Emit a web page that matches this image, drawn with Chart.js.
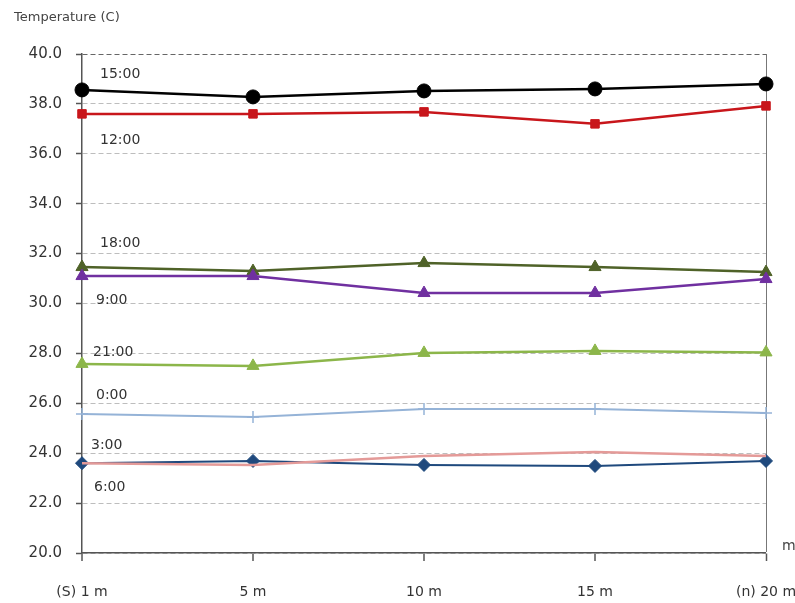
<!DOCTYPE html>
<html>
<head>
<meta charset="utf-8">
<script src="https://cdn.jsdelivr.net/npm/chart.js@4/dist/chart.umd.min.js"></script>
<style>
html,body{margin:0;padding:0;background:#fff;}
#wrap{width:795px;height:603px;}
</style>
</head>
<body>
<div id="wrap"><canvas id="c" width="795" height="603"></canvas></div>
<script>
const categories = ["(S) 1 m", "5 m", "10 m", "15 m", "(n) 20 m"];
const yTicks = [20, 22, 24, 26, 28, 30, 32, 34, 36, 38, 40];
const seriesNames = ["15:00", "12:00", "18:00", "9:00", "21:00", "0:00", "3:00", "6:00"];
const t1500 = [38.56, 38.28, 38.52, 38.60, 38.80];
const t1200 = [37.60, 37.60, 37.68, 37.20, 37.92];
const t1800 = [31.46, 31.30, 31.62, 31.46, 31.26];
const t0900 = [31.10, 31.10, 30.42, 30.42, 30.98];
const t2100 = [27.58, 27.50, 28.02, 28.10, 28.04];
const t0000 = [25.57, 25.45, 25.77, 25.77, 25.61];
const t0300 = [23.60, 23.53, 23.89, 24.05, 23.89];
const t0600 = [23.60, 23.69, 23.53, 23.49, 23.69];

const FONT = "'DejaVu Sans', sans-serif";

const labelPlugin = {
  id: 'seriesLabels',
  afterDatasetsDraw(chart, args, opts) {
    const ctx = chart.ctx;
    const ys = chart.scales.y;
    ctx.save();
    ctx.font = "14px " + FONT;
    ctx.fillStyle = "#333";
    ctx.textBaseline = "middle";
    ctx.textAlign = "left";
    opts.items.forEach(it => {
      ctx.fillText(it.text, chart.chartArea.left + it.dx, ys.getPixelForValue(it.v));
    });
    ctx.font = "13px " + FONT;
    ctx.fillStyle = "#444";
    ctx.fillText("Temperature (C)", 14, 18);
    ctx.font = "14px " + FONT;
    ctx.fillText("m", chart.chartArea.right + 16, chart.chartArea.bottom - 7);
    ctx.restore();
  }
};

function ds(label, data, color, style, radius, width) {
  return {
    label, data,
    borderColor: color, backgroundColor: color,
    pointStyle: style, pointRadius: radius, pointHoverRadius: radius,
    pointBorderColor: color, pointBackgroundColor: color,
    borderWidth: width, pointBorderWidth: style === 'cross' ? 1.5 : 1,
    tension: 0, fill: false
  };
}

new Chart(document.getElementById('c'), {
  type: 'line',
  data: {
    labels: categories,
    datasets: [
      ds(seriesNames[6], t0300, '#e49a98', false, 0, 2.5),
      ds(seriesNames[7], t0600, '#1f497d', 'rectRot', 6.5, 2),
      ds(seriesNames[5], t0000, '#95b3d7', 'cross', 6, 2),
      ds(seriesNames[4], t2100, '#8cb64a', 'triangle', 7, 2.5),
      ds(seriesNames[3], t0900, '#7030a0', 'triangle', 7, 2.5),
      ds(seriesNames[2], t1800, '#4f6228', 'triangle', 7, 2.5),
      ds(seriesNames[1], t1200, '#c8161b', 'rect', 6, 2.5),
      ds(seriesNames[0], t1500, '#000000', 'circle', 7, 2.5)
    ]
  },
  options: {
    responsive: false,
    animation: false,
    devicePixelRatio: 1,
    layout: { padding: { top: 54, right: 29, left: 0, bottom: 0 } },
    plugins: {
      legend: { display: false },
      tooltip: { enabled: false },
      seriesLabels: {
        items: [
          { text: "15:00", v: 39.2, dx: 18 },
          { text: "12:00", v: 36.55, dx: 18 },
          { text: "18:00", v: 32.42, dx: 18 },
          { text: "9:00", v: 30.14, dx: 14 },
          { text: "21:00", v: 28.06, dx: 11 },
          { text: "0:00", v: 26.33, dx: 14 },
          { text: "3:00", v: 24.33, dx: 9 },
          { text: "6:00", v: 22.65, dx: 12 }
        ]
      }
    },
    scales: {
      x: {
        offset: false,
        afterFit(s) { s.height = 50; s.paddingRight = 0; s.paddingLeft = 0; },
        border: { display: true, color: '#555', width: 1.5 },
        grid: {
          drawOnChartArea: true,
          color: '#777',
          lineWidth: c => (c.index === categories.length - 1 ? 1 : 0),
          drawTicks: true,
          tickLength: 8,
          tickColor: '#555',
          tickWidth: 1.5
        },
        ticks: {
          font: { family: FONT, size: 14 },
          color: '#333',
          padding: 23,
          maxRotation: 0,
          autoSkip: false
        }
      },
      y: {
        min: 20, max: 40,
        afterFit(s) { s.width = 82; s.paddingTop = 0; s.paddingBottom = 0; },
        afterBuildTicks(s) { s.ticks = yTicks.map(v => ({ value: v })); },
        border: { display: true, color: '#555', width: 1.5, dash: [5, 3] },
        grid: {
          color: c => (c.tick && c.tick.value === 40 ? '#666' : '#bdbdbd'),
          lineWidth: 1,
          drawTicks: true,
          tickLength: 6,
          tickColor: '#555',
          tickWidth: 1.5,
          tickBorderDash: []
        },
        ticks: {
          font: { family: FONT, size: 15 },
          color: '#333',
          padding: 14,
          callback: v => Number(v).toFixed(1)
        }
      }
    }
  },
  plugins: [labelPlugin]
});
</script>
</body>
</html>
